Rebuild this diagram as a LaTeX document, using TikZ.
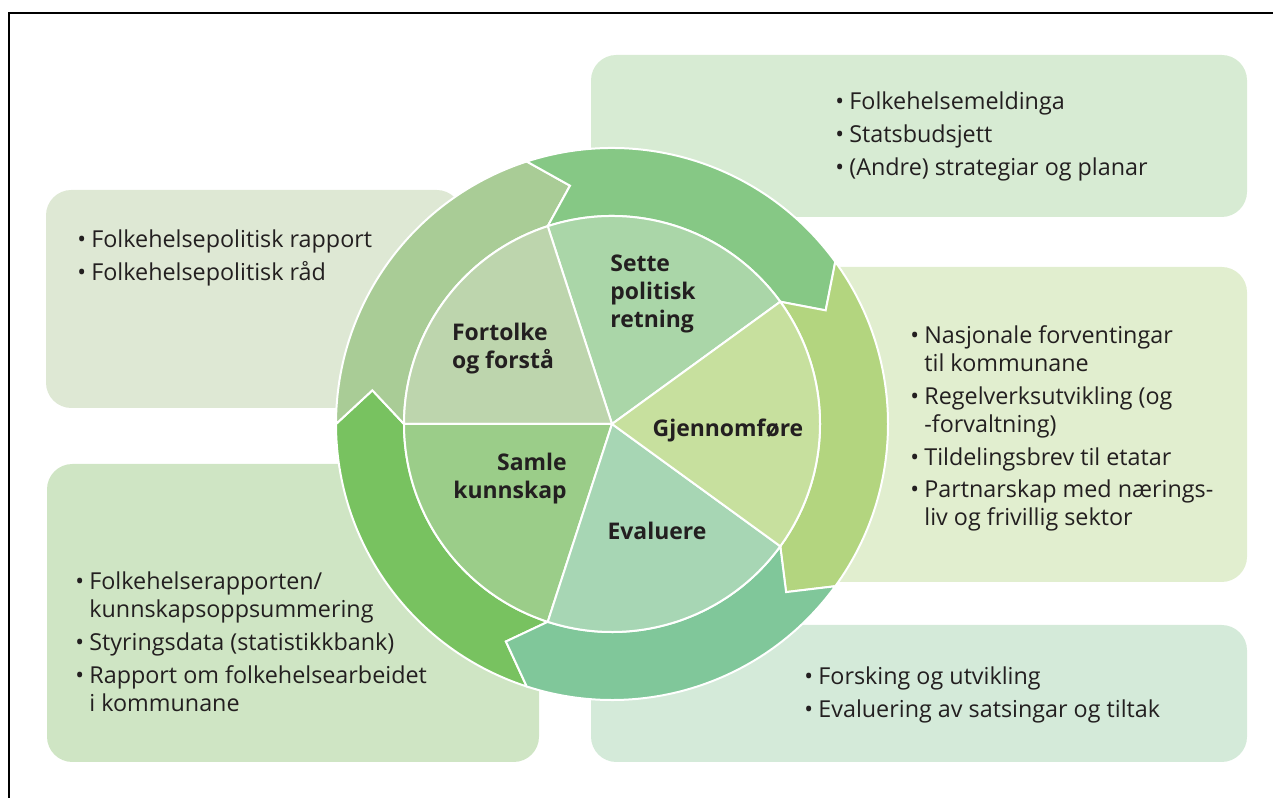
\documentclass[tikz,border=0pt]{standalone}
\usepackage{fontspec}
\setmainfont{Open Sans}
\usepackage{tikz}

\definecolor{txt}{HTML}{231F20}
% boxes
\definecolor{boxPlan}{HTML}{D7EBD3}
\definecolor{boxRap}{HTML}{DEE8D4}
\definecolor{boxTiltak}{HTML}{E1EECF}
\definecolor{boxData}{HTML}{CFE5C4}
\definecolor{boxForsk}{HTML}{D4EAD9}
% ring
\definecolor{ringSamle}{HTML}{78C260}
\definecolor{ringFortolke}{HTML}{A9CC96}
\definecolor{ringSette}{HTML}{86C885}
\definecolor{ringGjennom}{HTML}{B3D57F}
\definecolor{ringEval}{HTML}{80C79A}
% inner circle
\definecolor{secSamle}{HTML}{9BCD89}
\definecolor{secFortolke}{HTML}{BDD5AD}
\definecolor{secSette}{HTML}{AAD6A8}
\definecolor{secGjennom}{HTML}{C7E09E}
\definecolor{secEval}{HTML}{A7D6B4}

\begin{document}
\begin{tikzpicture}[x=0.75pt, y=0.75pt,
    infobox/.style={rounded corners=19pt},
    piece/.style={draw=white, line width=1.5pt},
    listtext/.style={anchor=base west, inner sep=0pt, text=txt, font=\fontsize{17.5}{21}\selectfont},
    stage/.style={inner sep=0pt, text=txt, font=\bfseries\fontsize{17.2}{21}\selectfont}]
    \useasboundingbox (0,0) rectangle (1273,798);

    \draw[line width=1.5pt] (9.3,0) -- (9.3,785) -- (1273,785); % frame

    \fill[boxPlan, infobox] (591,581) rectangle (1247,743); % top right
    \fill[boxRap, infobox] (46,390) rectangle (462,608); % left top
    \fill[boxTiltak, infobox] (760,216) rectangle (1247,531); % right
    \fill[boxData, infobox] (47,36) rectangle (539,334); % left bottom
    \fill[boxForsk, infobox] (591,36) rectangle (1247,173); % bottom right

    \begin{scope}[shift={(612,374)}]
    \coordinate (C) at (0,0);

    % outer ring, clockwise arrows
    \filldraw[piece, fill=ringSamle] (252:276) arc[start angle=252, end angle=180, radius=276] -- (172:242) -- (180:208) arc[start angle=180, end angle=252, radius=208] -- (244:242) -- cycle;
    \filldraw[piece, fill=ringFortolke] (180:276) arc[start angle=180, end angle=108, radius=276] -- (100:242) -- (108:208) arc[start angle=108, end angle=180, radius=208] -- (172:242) -- cycle;
    \filldraw[piece, fill=ringSette] (108:276) arc[start angle=108, end angle=36, radius=276] -- (28:242) -- (36:208) arc[start angle=36, end angle=108, radius=208] -- (100:242) -- cycle;
    \filldraw[piece, fill=ringGjennom] (36:276) arc[start angle=36, end angle=-36, radius=276] -- (-44:242) -- (-36:208) arc[start angle=-36, end angle=36, radius=208] -- (28:242) -- cycle;
    \filldraw[piece, fill=ringEval] (-36:276) arc[start angle=-36, end angle=-108, radius=276] -- (-116:242) -- (-108:208) arc[start angle=-108, end angle=-36, radius=208] -- (-44:242) -- cycle;

    % inner circle
    \filldraw[piece, fill=secSette] (C) -- (36:208) arc[start angle=36, end angle=108, radius=208] -- cycle;
    \filldraw[piece, fill=secFortolke] (C) -- (108:208) arc[start angle=108, end angle=180, radius=208] -- cycle;
    \filldraw[piece, fill=secSamle] (C) -- (180:208) arc[start angle=180, end angle=252, radius=208] -- cycle;
    \filldraw[piece, fill=secEval] (C) -- (252:208) arc[start angle=252, end angle=324, radius=208] -- cycle;
    \filldraw[piece, fill=secGjennom] (C) -- (-36:208) arc[start angle=-36, end angle=36, radius=208] -- cycle;
    \end{scope}

    \node[stage, align=left] (sette) at (653,504) {Sette\\politisk\\retning};
    \node[stage, align=left] (fortolke) at (503,449) {Fortolke\\og forstå};
    \node[stage] (gjennom) at (728,368) {Gjennomføre};
    \node[stage, align=right] (samle) at (510,319) {Samle\\kunnskap};
    \node[stage] (evaluere) at (657,267) {Evaluere};

    \node[listtext] (plans) at (835,688) {\begin{tabular}[t]{@{}l@{\hspace{4pt}}l@{}}
        \textbullet & Folkehelsemeldinga\\[3.5pt]
        \textbullet & Statsbudsjett\\[3.5pt]
        \textbullet & (Andre) strategiar og planar
    \end{tabular}};
    \node[listtext] (rapport) at (77,550) {\begin{tabular}[t]{@{}l@{\hspace{4pt}}l@{}}
        \textbullet & Folkehelsepolitisk rapport\\[3.5pt]
        \textbullet & Folkehelsepolitisk råd
    \end{tabular}};
    \node[listtext] (tiltak) at (910,454) {\begin{tabular}[t]{@{}l@{\hspace{4pt}}l@{}}
        \textbullet & Nasjonale forventingar\\
        & til kommunane\\[3.5pt]
        \textbullet & Regelverksutvikling (og\\
        & -forvaltning)\\[3.5pt]
        \textbullet & Tildelingsbrev til etatar\\[3.5pt]
        \textbullet & Partnarskap med nærings-\\
        & liv og frivillig sektor
    \end{tabular}};
    \node[listtext] (data) at (75,208) {\begin{tabular}[t]{@{}l@{\hspace{4pt}}l@{}}
        \textbullet & Folkehelserapporten/\\
        & kunnskapsoppsummering\\[3.5pt]
        \textbullet & Styringsdata (statistikkbank)\\[3.5pt]
        \textbullet & Rapport om folkehelsearbeidet\\
        & i kommunane
    \end{tabular}};
    \node[listtext] (forsking) at (804,113) {\begin{tabular}[t]{@{}l@{\hspace{4pt}}l@{}}
        \textbullet & Forsking og utvikling\\[3.5pt]
        \textbullet & Evaluering av satsingar og tiltak
    \end{tabular}};
\end{tikzpicture}
\end{document}
